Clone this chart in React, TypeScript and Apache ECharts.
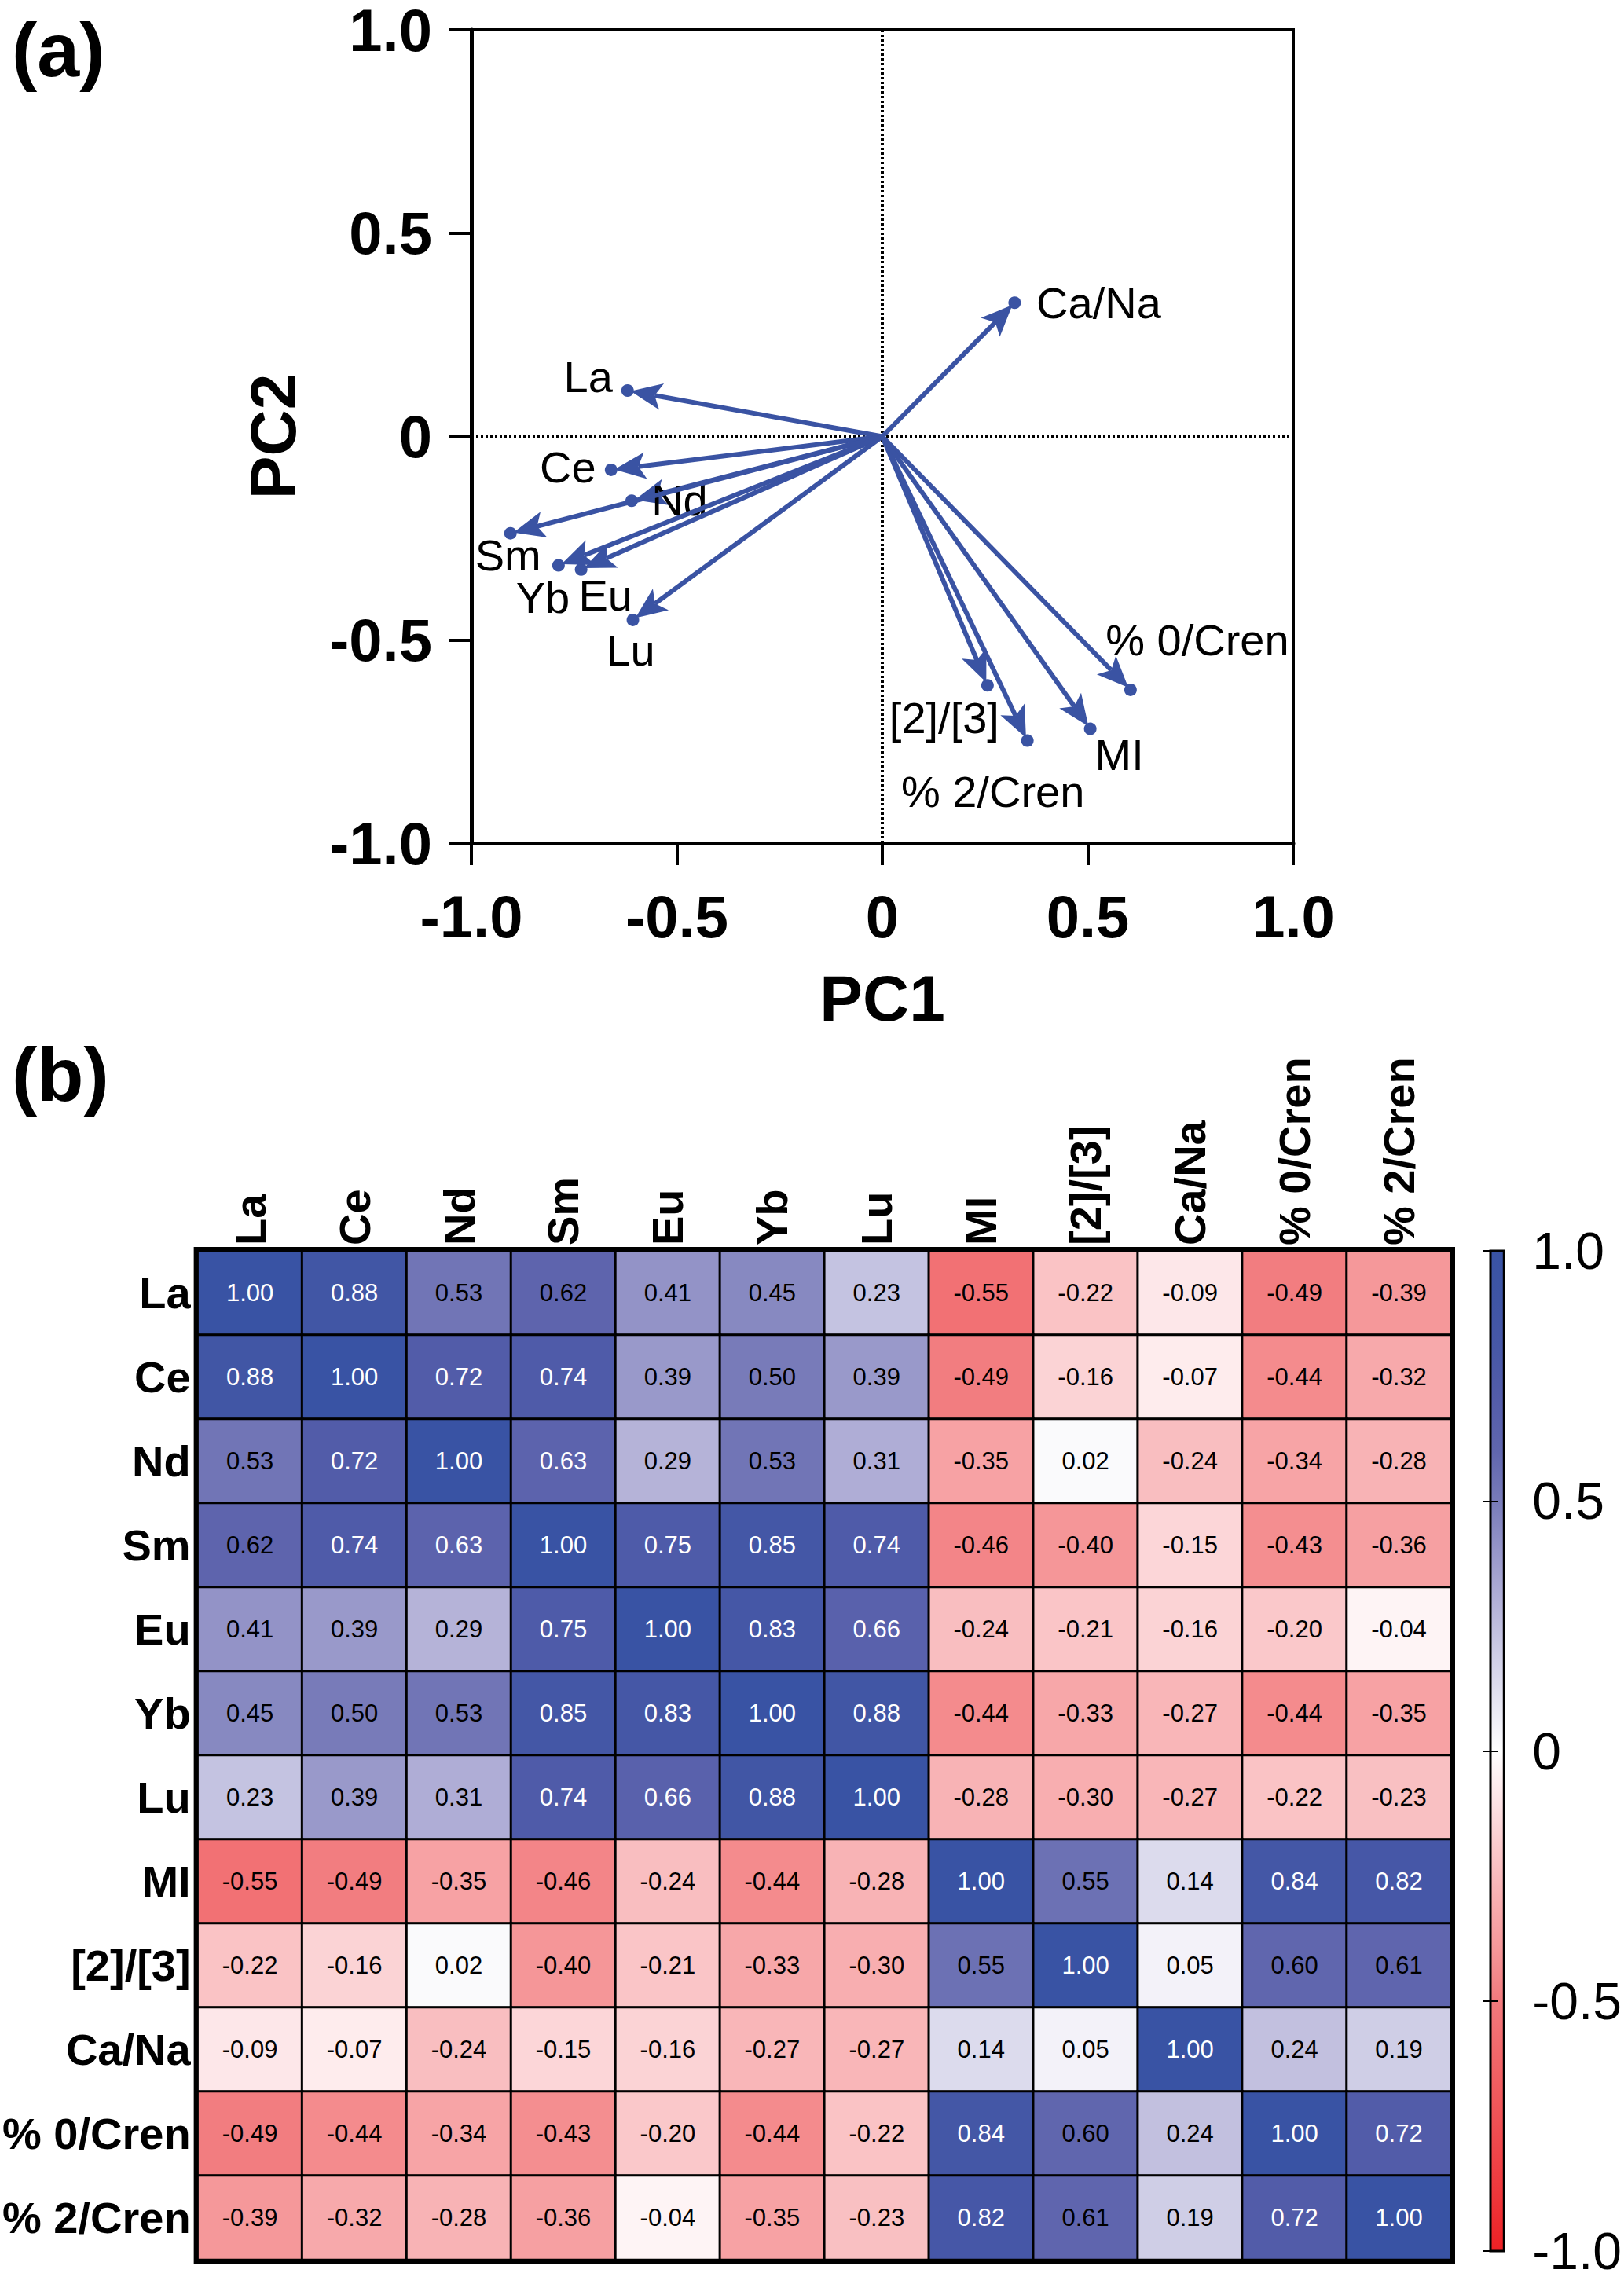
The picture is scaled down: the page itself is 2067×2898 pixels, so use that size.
import React, { useEffect, useRef } from "react";
import * as echarts from "echarts";

// ---------- Panel (a): PCA loadings ----------
const vectorNames = ["La", "Ce", "Nd", "Sm", "Eu", "Yb", "Lu", "Ca/Na", "% 0/Cren", "[2]/[3]", "% 2/Cren", "MI"];
const pc1Loadings = [-0.62, -0.66, -0.61, -0.905, -0.733, -0.788, -0.607, 0.322, 0.604, 0.256, 0.353, 0.506];
const pc2Loadings = [0.113, -0.082, -0.158, -0.238, -0.327, -0.317, -0.451, 0.329, -0.623, -0.612, -0.748, -0.719];
const pcTicks = [-1, -0.5, 0, 0.5, 1];
const pcTickLabels = ["-1.0", "-0.5", "0", "0.5", "1.0"];

// label placement (pixels relative to vector tip) - layout only
const labelOffsets: [number, number][] = [
  [-50, -18], [-55, -3], [61, -1], [-3, 28], [31, 33], [-20, 41], [-3, 39],
  [107, 0], [85, -63], [-55, 41], [-44, 65], [37, 33],
];

// ---------- Panel (b): correlation matrix ----------
const corrLabels = ["La", "Ce", "Nd", "Sm", "Eu", "Yb", "Lu", "MI", "[2]/[3]", "Ca/Na", "% 0/Cren", "% 2/Cren"];
const corrRows: number[][] = [
  [1.0, 0.88, 0.53, 0.62, 0.41, 0.45, 0.23, -0.55, -0.22, -0.09, -0.49, -0.39],
  [0.88, 1.0, 0.72, 0.74, 0.39, 0.5, 0.39, -0.49, -0.16, -0.07, -0.44, -0.32],
  [0.53, 0.72, 1.0, 0.63, 0.29, 0.53, 0.31, -0.35, 0.02, -0.24, -0.34, -0.28],
  [0.62, 0.74, 0.63, 1.0, 0.75, 0.85, 0.74, -0.46, -0.4, -0.15, -0.43, -0.36],
  [0.41, 0.39, 0.29, 0.75, 1.0, 0.83, 0.66, -0.24, -0.21, -0.16, -0.2, -0.04],
  [0.45, 0.5, 0.53, 0.85, 0.83, 1.0, 0.88, -0.44, -0.33, -0.27, -0.44, -0.35],
  [0.23, 0.39, 0.31, 0.74, 0.66, 0.88, 1.0, -0.28, -0.3, -0.27, -0.22, -0.23],
  [-0.55, -0.49, -0.35, -0.46, -0.24, -0.44, -0.28, 1.0, 0.55, 0.14, 0.84, 0.82],
  [-0.22, -0.16, 0.02, -0.4, -0.21, -0.33, -0.3, 0.55, 1.0, 0.05, 0.6, 0.61],
  [-0.09, -0.07, -0.24, -0.15, -0.16, -0.27, -0.27, 0.14, 0.05, 1.0, 0.24, 0.19],
  [-0.49, -0.44, -0.34, -0.43, -0.2, -0.44, -0.22, 0.84, 0.6, 0.24, 1.0, 0.72],
  [-0.39, -0.32, -0.28, -0.36, -0.04, -0.35, -0.23, 0.82, 0.61, 0.19, 0.72, 1.0],
];
const colorbarTicks = [-1, -0.5, 0, 0.5, 1];
const colorbarTickLabels = ["-1.0", "-0.5", "0", "0.5", "1.0"];
// colour ramp from -1 to 1 in steps of 0.1
const colorStops = [
  "#ED2024", "#EE3438", "#EF464A", "#F0585B", "#F1686B", "#F27A7D",
  "#F59698", "#F8AEB0", "#FAC8CA", "#FDE4E6", "#FFFFFF",
  "#E6E5F2", "#CCCBE5", "#B2B0D7", "#9696C9", "#787BB9",
  "#6066AE", "#545DAA", "#4858A7", "#3F55A5", "#3953A4",
];

const FONT = '"Liberation Sans", Arial, Helvetica, sans-serif';
const ARROW = "#3A53A3";

const findLabel = (ticks: number[], labels: string[], v: number) => {
  const i = ticks.findIndex((t) => Math.abs(t - v) < 1e-9);
  return i >= 0 ? labels[i] : "";
};

export default function App() {
  const ref = useRef<HTMLDivElement>(null);

  useEffect(() => {
    document.body.style.margin = "0";
    if (!ref.current) return;
    const chart = echarts.init(ref.current, undefined, { renderer: "svg" });

    const heatData: any[] = [];
    corrRows.forEach((row, r) => {
      row.forEach((v, c) => {
        heatData.push({
          value: [c, r, v],
          label: { color: v >= 0.625 ? "#FFFFFF" : "#000000" },
        });
      });
    });

    const vectorData = pc1Loadings.map((x, i) => [x, pc2Loadings[i], i]);

    const renderItem = (params: any, api: any) => {
      const x = api.value(0);
      const y = api.value(1);
      const idx = api.value(2);
      const o = api.coord([0, 0]);
      const p = api.coord([x, y]);
      const dx = p[0] - o[0];
      const dy = p[1] - o[1];
      const L = Math.hypot(dx, dy);
      const ux = dx / L;
      const uy = dy / L;
      const nx = -uy;
      const ny = ux;
      const tip = [p[0] - ux * 4, p[1] - uy * 4];
      const headLen = 40;
      const halfW = 17;
      const notch = 9;
      const base = [tip[0] - ux * headLen, tip[1] - uy * headLen];
      const back = [base[0] + ux * notch, base[1] + uy * notch];
      const off = labelOffsets[idx];
      return {
        type: "group",
        children: [
          {
            type: "line",
            shape: { x1: o[0], y1: o[1], x2: back[0], y2: back[1] },
            style: { stroke: ARROW, lineWidth: 6 },
          },
          {
            type: "polygon",
            shape: {
              points: [
                tip,
                [base[0] + nx * halfW, base[1] + ny * halfW],
                back,
                [base[0] - nx * halfW, base[1] - ny * halfW],
              ],
            },
            style: { fill: ARROW },
          },
          {
            type: "circle",
            shape: { cx: p[0], cy: p[1], r: 8 },
            style: { fill: ARROW },
          },
          {
            type: "text",
            x: p[0] + off[0],
            y: p[1] + off[1],
            style: {
              text: vectorNames[idx],
              fill: "#000",
              fontSize: 56,
              fontFamily: FONT,
              align: "center",
              verticalAlign: "middle",
              textAlign: "center",
              textVerticalAlign: "middle",
            },
          },
        ],
      };
    };

    const gradientStops = colorStops
      .map((c, i) => ({ offset: 1 - i / (colorStops.length - 1), color: c }))
      .reverse();

    const renderColorbar = (params: any, api: any) => {
      const tl = api.coord([0, 1]);
      const br = api.coord([1, -1]);
      return {
        type: "rect",
        shape: { x: tl[0], y: tl[1], width: br[0] - tl[0], height: br[1] - tl[1] },
        style: {
          fill: new echarts.graphic.LinearGradient(0, 0, 0, 1, gradientStops),
          stroke: "#000",
          lineWidth: 3,
        },
      };
    };

    const pcAxisCommon = {
      type: "value",
      min: -1,
      max: 1,
      interval: 0.5,
      axisLine: { show: true, onZero: false, lineStyle: { color: "#000", width: 5 } },
      axisTick: { show: true, length: 28, lineStyle: { color: "#000", width: 4 } },
      splitLine: { show: false },
      nameLocation: "middle",
      nameTextStyle: { fontSize: 82, fontWeight: "bold", color: "#000", fontFamily: FONT },
    };

    const option: any = {
      animation: false,
      backgroundColor: "#FFFFFF",
      textStyle: { fontFamily: FONT },
      grid: [
        { left: 600, top: 30, width: 1046, height: 1043, show: true, borderColor: "#000", borderWidth: 4, backgroundColor: "transparent" },
        { left: 250, top: 1592, width: 1597, height: 1284, show: true, borderColor: "#000", borderWidth: 10, backgroundColor: "transparent" },
        { left: 1897, top: 1592, width: 43, height: 1284 },
      ],
      xAxis: [
        {
          ...pcAxisCommon,
          gridIndex: 0,
          name: "PC1",
          nameGap: 156,
          axisLabel: {
            margin: 55,
            fontSize: 76,
            fontWeight: "bold",
            color: "#000",
            fontFamily: FONT,
            formatter: (v: number) => findLabel(pcTicks, pcTickLabels, v),
          },
        },
        {
          gridIndex: 1,
          type: "category",
          data: corrLabels,
          position: "top",
          axisLine: { show: false },
          axisTick: { show: false },
          splitLine: { show: false },
          axisLabel: { rotate: -90, margin: 7, fontSize: 56, fontWeight: "bold", color: "#000", fontFamily: FONT, interval: 0 },
        },
        { gridIndex: 2, type: "value", show: false, min: 0, max: 1 },
      ],
      yAxis: [
        {
          ...pcAxisCommon,
          gridIndex: 0,
          name: "PC2",
          nameGap: 212,
          nameRotate: 90,
          axisLabel: {
            margin: 50,
            fontSize: 76,
            lineHeight: 60,
            fontWeight: "bold",
            color: "#000",
            fontFamily: FONT,
            formatter: (v: number) => findLabel(pcTicks, pcTickLabels, v),
          },
        },
        {
          gridIndex: 1,
          type: "category",
          data: corrLabels,
          inverse: true,
          axisLine: { show: false },
          axisTick: { show: false },
          splitLine: { show: false },
          axisLabel: { margin: 9, fontSize: 56, fontWeight: "bold", color: "#000", fontFamily: FONT, interval: 0 },
        },
        {
          gridIndex: 2,
          type: "value",
          position: "right",
          min: -1,
          max: 1,
          interval: 0.5,
          z: 10,
          axisLine: { show: false },
          axisTick: { show: true, inside: true, length: 9, lineStyle: { color: "#000", width: 2 } },
          splitLine: { show: false },
          axisLabel: {
            margin: 36,
            fontSize: 66,
            color: "#000",
            fontFamily: FONT,
            formatter: (v: number) => findLabel(colorbarTicks, colorbarTickLabels, v),
          },
        },
        {
          gridIndex: 2,
          type: "value",
          position: "left",
          min: -1,
          max: 1,
          interval: 0.5,
          z: 10,
          axisLine: { show: false },
          axisTick: { show: true, inside: true, length: 9, lineStyle: { color: "#000", width: 2 } },
          splitLine: { show: false },
          axisLabel: { show: false },
        },
      ],
      visualMap: {
        type: "continuous",
        show: false,
        min: -1,
        max: 1,
        seriesIndex: 2,
        dimension: 2,
        inRange: { color: colorStops },
      },
      series: [
        {
          type: "custom",
          xAxisIndex: 0,
          yAxisIndex: 0,
          data: vectorData,
          renderItem,
          clip: false,
          z: 5,
          silent: true,
        },
        {
          type: "line",
          xAxisIndex: 0,
          yAxisIndex: 0,
          data: [],
          z: 1,
          markLine: {
            silent: true,
            symbol: "none",
            label: { show: false },
            lineStyle: { type: [3, 3], color: "#000", width: 4 },
            data: [{ xAxis: 0 }, { yAxis: 0 }],
          },
        },
        {
          type: "heatmap",
          xAxisIndex: 1,
          yAxisIndex: 1,
          data: heatData,
          itemStyle: { borderColor: "#000", borderWidth: 3 },
          emphasis: { disabled: true },
          label: {
            show: true,
            fontSize: 31,
            fontFamily: FONT,
            formatter: (p: any) => Number(p.value[2]).toFixed(2),
          },
        },
        {
          type: "custom",
          xAxisIndex: 2,
          yAxisIndex: 2,
          data: [[0, 0]],
          renderItem: renderColorbar,
          silent: true,
          clip: false,
          z: 2,
        },
      ],
      graphic: [
        { type: "text", left: 15, top: 15, style: { text: "(a)", fontSize: 97, fontWeight: "bold", fontFamily: FONT, fill: "#000" } },
        { type: "text", left: 15, top: 1319, style: { text: "(b)", fontSize: 97, fontWeight: "bold", fontFamily: FONT, fill: "#000" } },
      ],
    };

    chart.setOption(option);
    return () => chart.dispose();
  }, []);

  return <div ref={ref} style={{ width: 2067, height: 2898 }} />;
}
